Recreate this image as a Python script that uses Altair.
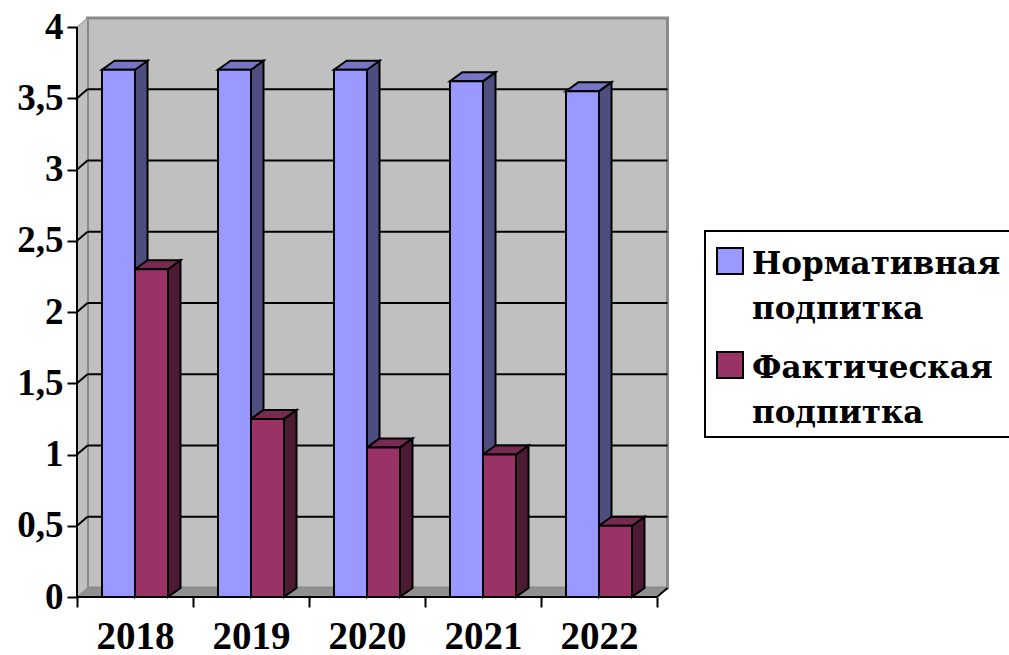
import altair as alt
import pandas as pd

# ---- values -------------------------------------------------------------
years = ["2018", "2019", "2020", "2021", "2022"]
normative = [3.7, 3.7, 3.7, 3.62, 3.55]
actual = [2.3, 1.25, 1.05, 1.0, 0.5]
series_names = ["Нормативная подпитка", "Фактическая подпитка"]
y_ticks = [0, 0.5, 1, 1.5, 2, 2.5, 3, 3.5, 4]

# ---- colours (front / side / top of each column) -------------------------
front_colors = ["#9999FF", "#993366"]
side_colors = ["#4D4D80", "#4D1A33"]
top_colors = ["#7676C4", "#772A52"]
WALL = "#C0C0C0"
WALL_EDGE = "#8A8A8A"
FLOOR = "#909090"
FONT = "Liberation Serif"
LEGEND_FONT = "DejaVu Serif"

# ---- pseudo-3D geometry, expressed in data units ------------------------
PX_SLOT = 116.0     # pixels per category slot
PX_UNIT = 142.5     # pixels per value unit
W, H = 600, 587
LEFT, TOP = 77, 10
X_MAX = W / PX_SLOT
Y_MAX = H / PX_UNIT
N = len(years)
Y_TOP = y_ticks[-1]
WALL_DX, WALL_DY = 10.5 / PX_SLOT, 9 / PX_UNIT
BAR_DX, BAR_DY = 12.5 / PX_SLOT, 9 / PX_UNIT
BAR_W = 33 / PX_SLOT

years_js = "[" + ",".join(f"'{y}'" for y in years) + "]"

y_axis = alt.Axis(
    values=y_ticks, title=None, domain=False, grid=False,
    tickSize=10, tickWidth=2, tickColor="black",
    labelExpr="replace(format(datum.value, '~g'), '.', ',')",
    labelFont=FONT, labelFontWeight="bold", labelFontSize=37, labelColor="black",
    labelPadding=4,
)
x_axis = alt.Axis(
    values=list(range(N + 1)), title=None, domain=False, grid=False,
    tickSize=10, tickWidth=2, tickColor="black",
    labelExpr=f"datum.value < {N} ? {years_js}[datum.value] : ''",
    labelOffset=PX_SLOT / 2, labelFlush=False, labelOverlap=False,
    labelFont=FONT, labelFontWeight="bold", labelFontSize=39, labelColor="black",
    labelPadding=10,
)
xs = alt.Scale(domain=[0, X_MAX], nice=False, zero=False)
ys = alt.Scale(domain=[0, Y_MAX], nice=False, zero=False)


def X(field):
    return alt.X(f"{field}:Q", scale=xs, axis=x_axis)


def Y(field):
    return alt.Y(f"{field}:Q", scale=ys, axis=y_axis)


fronts, sides, tops = [], [], []
for i, year in enumerate(years):
    for s, vals in enumerate([normative, actual]):
        v = vals[i]
        x0 = i + 0.5 - BAR_W + s * BAR_W
        x1 = x0 + BAR_W
        key = f"{year}-{s}"
        fronts.append(dict(series=series_names[s], x=x0, x2=x1, y=0.0, y2=v))
        sides += [
            dict(key=key, x=x1, y=0.0, y2=v, fill=side_colors[s]),
            dict(key=key, x=x1 + BAR_DX, y=BAR_DY, y2=v + BAR_DY, fill=side_colors[s]),
        ]
        tops += [
            dict(key=key, y=v, x=x0, x2=x1, fill=top_colors[s]),
            dict(key=key, y=v + BAR_DY, x=x0 + BAR_DX, x2=x1 + BAR_DX, fill=top_colors[s]),
        ]

fronts = pd.DataFrame(fronts)
sides = pd.DataFrame(sides)
tops = pd.DataFrame(tops)

# ---- walls and floor ----------------------------------------------------
back_wall = pd.DataFrame([dict(x=WALL_DX, x2=N + WALL_DX, y=WALL_DY, y2=Y_TOP + WALL_DY)])
side_wall = pd.DataFrame([
    dict(x=0.0, y=0.0, y2=Y_TOP),
    dict(x=WALL_DX, y=WALL_DY, y2=Y_TOP + WALL_DY),
])
floor = pd.DataFrame([
    dict(y=0.0, x=0.0, x2=float(N)),
    dict(y=WALL_DY, x=WALL_DX, x2=N + WALL_DX),
])

grid_vals = y_ticks[1:-1]
grid_lines = pd.DataFrame(
    [dict(x=WALL_DX, x2=N + WALL_DX, y=v + WALL_DY, y2=v + WALL_DY) for v in grid_vals]
    + [dict(x=0.0, x2=WALL_DX, y=v, y2=v + WALL_DY) for v in grid_vals]
)
axis_lines = pd.DataFrame([
    dict(x=0.0, x2=0.0, y=0.0, y2=Y_TOP),                 # value axis
    dict(x=0.0, x2=float(N), y=0.0, y2=0.0),              # category axis
    dict(x=float(N), x2=N + WALL_DX, y=0.0, y2=WALL_DY),  # floor right edge
])

wall_layer = alt.Chart(back_wall).mark_rect(
    fill=WALL, stroke=WALL_EDGE, strokeWidth=3
).encode(x=X("x"), x2="x2", y=Y("y"), y2="y2")

side_wall_layer = alt.Chart(side_wall).mark_area(
    fill=WALL, stroke=WALL_EDGE, strokeWidth=1, opacity=1
).encode(x=X("x"), y=Y("y"), y2="y2")

floor_layer = alt.Chart(floor).mark_area(
    orient="horizontal", fill=FLOOR, stroke=WALL_EDGE, strokeWidth=1, opacity=1
).encode(y=Y("y"), x=X("x"), x2="x2")

grid_layer = alt.Chart(grid_lines).mark_rule(color="black", strokeWidth=2).encode(
    x=X("x"), x2="x2", y=Y("y"), y2="y2"
)

side_layer = alt.Chart(sides).mark_area(
    stroke="black", strokeWidth=2, opacity=1, strokeJoin="miter"
).encode(
    x=X("x"), y=Y("y"), y2="y2",
    color=alt.Color("fill:N", scale=None),
    detail="key:N",
)

top_layer = alt.Chart(tops).mark_area(
    orient="horizontal", stroke="black", strokeWidth=2, opacity=1, strokeJoin="miter"
).encode(
    y=Y("y"), x=X("x"), x2="x2",
    color=alt.Color("fill:N", scale=None),
    detail="key:N",
)

front_layer = alt.Chart(fronts).mark_rect(
    stroke="black", strokeWidth=2, opacity=1
).encode(
    x=X("x"), x2="x2", y=Y("y"), y2="y2",
    color=alt.Color(
        "series:N",
        scale=alt.Scale(domain=series_names, range=front_colors),
        legend=None,
    ),
)

axis_layer = alt.Chart(axis_lines).mark_rule(color="black", strokeWidth=2).encode(
    x=X("x"), x2="x2", y=Y("y"), y2="y2"
)

# ---- legend box on the right (pixel layout relative to the plot origin) --
LG_LEFT, LG_TOP, LG_BOTTOM = 705 - LEFT, 231 - TOP, 437 - TOP
LG_RIGHT = 1020 - LEFT
ENTRY_STEP = 104
SW_X, SW_SIZE, SW_TOP = 717 - LEFT, 26, 248 - TOP
TXT_X, TXT_BASE, LINE_H = 752 - LEFT, 274 - TOP, 45

legend_layers = [
    alt.Chart(pd.DataFrame([{"k": 0}])).mark_rect(
        fill="white", stroke="black", strokeWidth=2
    ).encode(
        x=alt.value(LG_LEFT), x2=alt.value(LG_RIGHT),
        y=alt.value(LG_TOP), y2=alt.value(LG_BOTTOM),
    )
]
for k, name in enumerate(series_names):
    entry = pd.DataFrame([{"series": name}])
    legend_layers.append(
        alt.Chart(entry).mark_rect(
            fill=front_colors[k], stroke="black", strokeWidth=2
        ).encode(
            x=alt.value(SW_X), x2=alt.value(SW_X + SW_SIZE),
            y=alt.value(SW_TOP + k * ENTRY_STEP),
            y2=alt.value(SW_TOP + k * ENTRY_STEP + SW_SIZE),
        )
    )
    legend_layers.append(
        alt.Chart(entry).mark_text(
            font=LEGEND_FONT, fontSize=31, fontWeight="bold", color="black",
            align="left", baseline="alphabetic", lineBreak=" ", lineHeight=LINE_H,
        ).encode(
            text="series:N",
            x=alt.value(TXT_X),
            y=alt.value(TXT_BASE + k * ENTRY_STEP),
        )
    )

chart = alt.layer(
    wall_layer, side_wall_layer, floor_layer, grid_layer,
    side_layer, top_layer, front_layer, axis_layer, *legend_layers,
).properties(
    width=W, height=H,
    autosize=alt.AutoSizeParams(type="none"),
    padding={"left": LEFT, "top": TOP, "right": 1009 - LEFT - W, "bottom": 655 - TOP - H},
    background="white",
).configure(
    font=FONT
).configure_view(
    stroke=None
)

chart.save("out.html", embed_options={"renderer": "svg", "actions": False})
